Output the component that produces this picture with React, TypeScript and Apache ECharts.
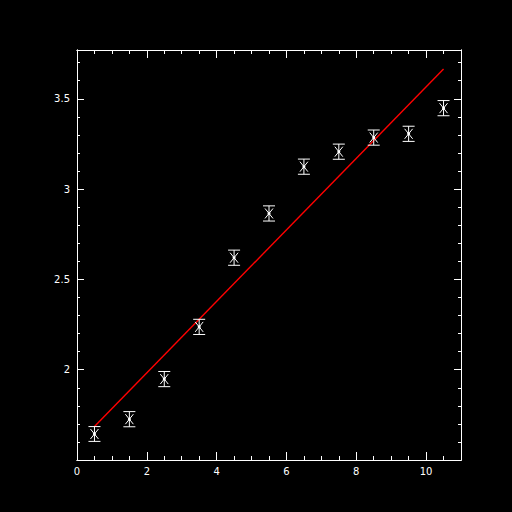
import { useEffect, useRef } from 'react';
import * as echarts from 'echarts';

const xValues = [0.5, 1.5, 2.5, 3.5, 4.5, 5.5, 6.5, 7.5, 8.5, 9.5, 10.5];
const yValues = [1.644, 1.726, 1.948, 2.237, 2.62, 2.865, 3.124, 3.207, 3.285, 3.306, 3.448];
const yErrors = [0.041, 0.042, 0.042, 0.042, 0.042, 0.042, 0.042, 0.042, 0.042, 0.042, 0.042];
const fitX = [0.5, 10.5];
const fitY = [1.685, 3.665];

const X_MIN = 0;
const X_MAX = 11;
const Y_MIN = 1.5;
const Y_MAX = 3.77;

const white = '#ffffff';
const labelFont = { color: white, fontSize: 10, fontFamily: 'DejaVu Sans' };

function xAxisOf(position: 'bottom' | 'top', interval: number, tickLen: number, labels: boolean) {
  return {
    type: 'value',
    position,
    min: X_MIN,
    max: X_MAX,
    interval,
    axisLine: { show: true, onZero: false, lineStyle: { color: white, width: 1 } },
    axisTick: { show: true, inside: true, length: tickLen, lineStyle: { color: white, width: 1 } },
    axisLabel: labels
      ? { show: true, margin: 6, showMinLabel: true, showMaxLabel: false, ...labelFont }
      : { show: false },
    splitLine: { show: false },
  };
}

function yAxisOf(position: 'left' | 'right', interval: number, tickLen: number, labels: boolean) {
  return {
    type: 'value',
    position,
    min: Y_MIN,
    max: Y_MAX,
    interval,
    axisLine: { show: true, onZero: false, lineStyle: { color: white, width: 1 } },
    axisTick: { show: true, inside: true, length: tickLen, lineStyle: { color: white, width: 1 } },
    axisLabel: labels
      ? {
          show: true,
          margin: 7,
          showMinLabel: false,
          showMaxLabel: false,
          formatter: (v: number) => String(v),
          ...labelFont,
        }
      : { show: false },
    splitLine: { show: false },
  };
}

export default function App() {
  const chartRef = useRef<HTMLDivElement | null>(null);

  useEffect(() => {
    if (!chartRef.current) {
      return;
    }
    const chart = echarts.init(chartRef.current, undefined, { renderer: 'svg' });
    const points = xValues.map((x, i) => [x, yValues[i], yErrors[i]]);
    chart.setOption({
      animation: false,
      backgroundColor: '#000000',
      grid: { left: 77, right: 51, top: 50, bottom: 52, containLabel: false },
      xAxis: [
        xAxisOf('bottom', 0.5, 4, false),
        xAxisOf('bottom', 2, 8, true),
        xAxisOf('top', 0.5, 4, false),
        xAxisOf('top', 2, 8, false),
      ],
      yAxis: [
        yAxisOf('left', 0.1, 3, false),
        yAxisOf('left', 0.5, 7, true),
        yAxisOf('right', 0.1, 3, false),
        yAxisOf('right', 0.5, 7, false),
      ],
      series: [
        {
          type: 'line',
          xAxisIndex: 0,
          yAxisIndex: 0,
          data: fitX.map((x, i) => [x, fitY[i]]),
          showSymbol: false,
          symbol: 'none',
          lineStyle: { color: '#ff0000', width: 1.4 },
          z: 2,
        },
        {
          type: 'custom',
          xAxisIndex: 0,
          yAxisIndex: 0,
          data: points,
          z: 3,
          renderItem: (_params: unknown, api: any) => {
            const x = api.value(0);
            const y = api.value(1);
            const e = api.value(2);
            const c = api.coord([x, y]);
            const top = api.coord([x, y + e]);
            const bot = api.coord([x, y - e]);
            const cap = 6;
            const mw = 4;
            const mh = 5;
            const style = { stroke: white, lineWidth: 1 };
            return {
              type: 'group',
              children: [
                { type: 'line', shape: { x1: top[0], y1: top[1], x2: bot[0], y2: bot[1] }, style },
                { type: 'line', shape: { x1: top[0] - cap, y1: top[1], x2: top[0] + cap, y2: top[1] }, style },
                { type: 'line', shape: { x1: bot[0] - cap, y1: bot[1], x2: bot[0] + cap, y2: bot[1] }, style },
                { type: 'line', shape: { x1: c[0] - mw, y1: c[1] - mh, x2: c[0] + mw, y2: c[1] + mh }, style },
                { type: 'line', shape: { x1: c[0] + mw, y1: c[1] - mh, x2: c[0] - mw, y2: c[1] + mh }, style },
                { type: 'circle', shape: { cx: c[0], cy: c[1], r: 1.5 }, style: { fill: white } },
              ],
            };
          },
        },
      ],
    });
    return () => chart.dispose();
  }, []);

  return (
    <div
      ref={chartRef}
      style={{ position: 'fixed', left: 0, top: 0, width: 512, height: 512, background: '#000000' }}
    />
  );
}
